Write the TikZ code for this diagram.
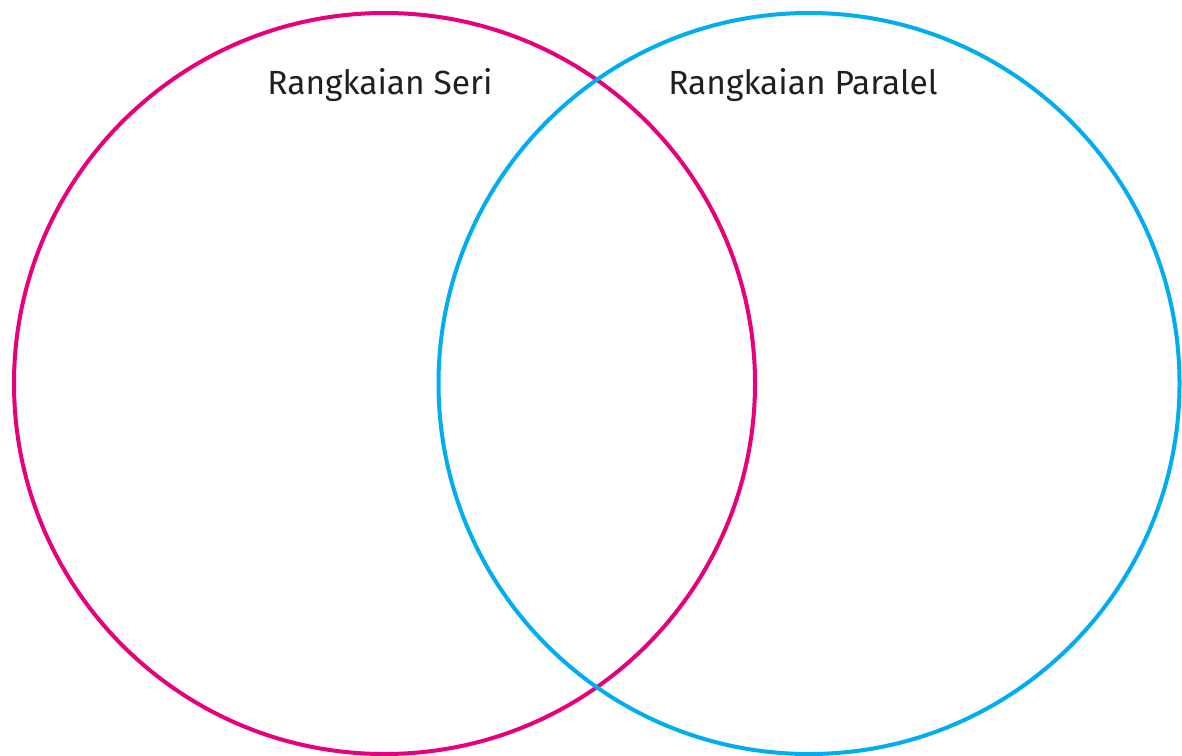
\documentclass[tikz,border=0pt]{standalone}
\usepackage{fontspec}
\setmainfont{Fira Sans}
\usepackage{xcolor}
\definecolor{seripink}{HTML}{E6007E}
\definecolor{paralelblue}{HTML}{00AEEF}
\definecolor{labelgray}{HTML}{231F20}

\begin{document}
\begin{tikzpicture}[x=1pt, y=-1pt, every node/.style={font=\fontsize{33.5}{38}\selectfont, text=labelgray}]
  \useasboundingbox (0,0) rectangle (1182,755);
  \draw[seripink, line width=4pt] (384.5,383.5) circle[radius=370.5];
  \draw[paralelblue, line width=4pt] (809,383.5) circle[radius=370.5];
  \node[anchor=base] (seri) at (380,94) {Rangkaian Seri};
  \node[anchor=base] (paralel) at (803,94) {Rangkaian Paralel};
\end{tikzpicture}
\end{document}
